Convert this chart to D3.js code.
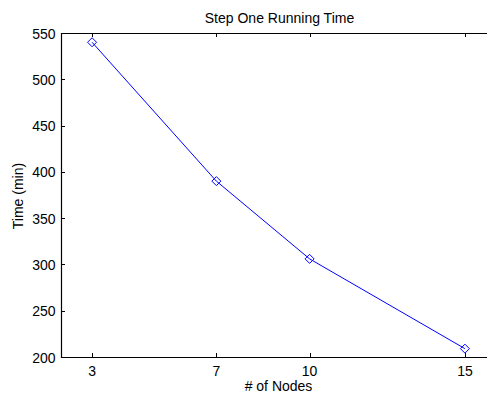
<!DOCTYPE html>
<html>
<head>
<meta charset="utf-8">
<script src="https://cdn.jsdelivr.net/npm/d3@7"></script>
<style>
  html, body { margin: 0; padding: 0; background: #fff; }
  svg { display: block; font-family: "Liberation Sans", Arial, sans-serif; }
</style>
</head>
<body>
<svg id="chart" width="487" height="393"></svg>
<script>
// data
const nodes = [3, 7, 10, 15]
const minutes = [540, 390, 306, 209]
const xTicks = [3, 7, 10, 15]
const yTicks = [200, 250, 300, 350, 400, 450, 500, 550]

const svg = d3.select('#chart')
const plotLeft = 61, plotTop = 33, plotRight = 496, plotBottom = 357
const fontSize = 14

const x = d3.scaleLinear().domain([2, 16]).range([plotLeft, plotRight])
const y = d3.scaleLinear().domain([200, 550]).range([plotBottom, plotTop])

// axis box (right edge falls off the canvas)
const box = svg.append('g').attr('class', 'box')
box.append('path')
  .attr('d', `M${plotRight},${plotTop + 0.5}H${plotLeft + 0.5}V${plotBottom + 0.5}H${plotRight}`)
  .attr('fill', 'none')
  .attr('stroke', 'black')
  .attr('stroke-width', 1.2)

const tickLen = 4
// x ticks bottom + top, inward
box.selectAll('.xtick-b')
  .data(xTicks).enter()
  .append('line')
  .attr('x1', d => Math.round(x(d)) + 0.5)
  .attr('x2', d => Math.round(x(d)) + 0.5)
  .attr('y1', plotBottom)
  .attr('y2', plotBottom - tickLen)
  .attr('stroke', 'black')
box.selectAll('.xtick-t')
  .data(xTicks).enter()
  .append('line')
  .attr('x1', d => Math.round(x(d)) + 0.5)
  .attr('x2', d => Math.round(x(d)) + 0.5)
  .attr('y1', plotTop)
  .attr('y2', plotTop + tickLen)
  .attr('stroke', 'black')
box.selectAll('.ytick')
  .data(yTicks).enter()
  .append('line')
  .attr('x1', plotLeft)
  .attr('x2', plotLeft + tickLen)
  .attr('y1', d => Math.round(y(d)) + 0.5)
  .attr('y2', d => Math.round(y(d)) + 0.5)
  .attr('stroke', 'black')

// tick labels
svg.selectAll('.xlabel')
  .data(xTicks).enter()
  .append('text')
  .attr('x', d => x(d))
  .attr('y', plotBottom + 18.5)
  .attr('text-anchor', 'middle')
  .attr('font-size', fontSize)
  .text(d => d)
svg.selectAll('.ylabel')
  .data(yTicks).enter()
  .append('text')
  .attr('x', plotLeft - 5.5)
  .attr('y', d => y(d) + 5.5)
  .attr('text-anchor', 'end')
  .attr('font-size', fontSize)
  .text(d => d)

// titles
svg.append('text')
  .attr('x', (plotLeft + plotRight) / 2 + 1)
  .attr('y', 22.5)
  .attr('text-anchor', 'middle')
  .attr('font-size', fontSize)
  .text('Step One Running Time')
svg.append('text')
  .attr('x', (plotLeft + plotRight) / 2)
  .attr('y', 391)
  .attr('text-anchor', 'middle')
  .attr('font-size', fontSize)
  .text('# of Nodes')
svg.append('text')
  .attr('transform', `translate(22.5,${(plotTop + plotBottom) / 2 + 1}) rotate(-90)`)
  .attr('text-anchor', 'middle')
  .attr('font-size', fontSize)
  .text('Time (min)')

// series
const pts = nodes.map((n, i) => [n, minutes[i]])
svg.append('path')
  .datum(pts)
  .attr('d', d3.line().x(d => x(d[0])).y(d => y(d[1])))
  .attr('fill', 'none')
  .attr('stroke', '#0000ff')
  .attr('stroke-width', 1)

const r = 4.5
svg.selectAll('.marker')
  .data(pts).enter()
  .append('path')
  .attr('class', 'marker')
  .attr('d', d => `M${x(d[0])},${y(d[1]) - r}L${x(d[0]) + r},${y(d[1])}L${x(d[0])},${y(d[1]) + r}L${x(d[0]) - r},${y(d[1])}Z`)
  .attr('fill', 'none')
  .attr('stroke', '#0000ff')
  .attr('stroke-width', 1)
</script>
</body>
</html>
